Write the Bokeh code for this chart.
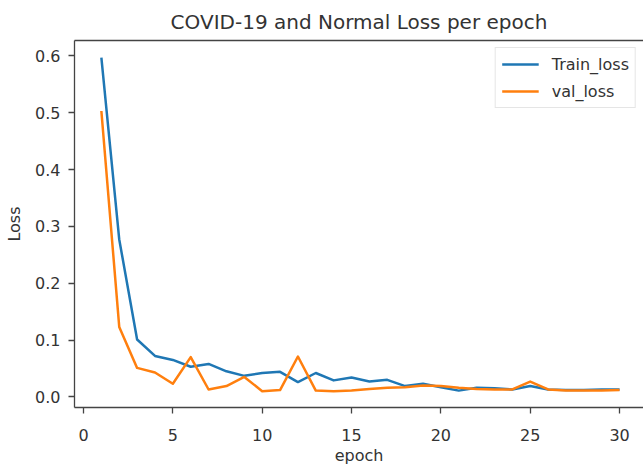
from bokeh.plotting import figure
from bokeh.models import Range1d, FixedTicker, PrintfTickFormatter, LinearAxis
from bokeh.embed import file_html
from bokeh.resources import INLINE

epochs = list(range(1, 31))
train_loss = [0.597, 0.277, 0.101, 0.072, 0.065, 0.053, 0.058, 0.045, 0.037, 0.042,
              0.044, 0.026, 0.042, 0.029, 0.034, 0.027, 0.030, 0.019, 0.023, 0.017,
              0.011, 0.016, 0.015, 0.013, 0.019, 0.013, 0.012, 0.012, 0.013, 0.013]
val_loss = [0.503, 0.123, 0.051, 0.043, 0.023, 0.070, 0.013, 0.019, 0.035, 0.010,
            0.012, 0.071, 0.011, 0.010, 0.011, 0.014, 0.016, 0.017, 0.020, 0.019,
            0.016, 0.014, 0.013, 0.013, 0.027, 0.013, 0.011, 0.011, 0.011, 0.012]
x_ticks = [0, 5, 10, 15, 20, 25, 30]
y_ticks = [0.0, 0.1, 0.2, 0.3, 0.4, 0.5, 0.6]

FONT = "DejaVu Sans"
TXT = "#333333"
SPINE = "#444444"

p = figure(width=643, height=467, output_backend="svg", toolbar_location=None,
           x_range=Range1d(-0.504, 31.34), y_range=Range1d(-0.0187, 0.627),
           min_border_left=74, min_border_right=0, min_border_top=39, min_border_bottom=58,
           title="COVID-19 and Normal Loss per epoch")

bottom_axis = p.below[0]
left_axis = p.left[0]

p.title.text_font = FONT
p.title.text_font_size = "20px"
p.title.text_font_style = "normal"
p.title.text_color = TXT
p.title.align = "center"
p.title.standoff = 14

p.outline_line_color = None
p.background_fill_color = "white"
p.border_fill_color = "white"
p.xgrid.visible = False
p.ygrid.visible = False

for ax in (bottom_axis, left_axis):
    ax.axis_line_color = SPINE
    ax.axis_line_width = 1.3
    ax.major_tick_line_color = SPINE
    ax.major_tick_line_width = 1.3
    ax.major_tick_out = 6
    ax.major_tick_in = 0
    ax.minor_tick_line_color = None
    ax.major_label_text_font = FONT
    ax.major_label_text_font_size = "16px"
    ax.major_label_text_color = TXT
    ax.axis_label_text_font = FONT
    ax.axis_label_text_font_size = "16px"
    ax.axis_label_text_font_style = "normal"
    ax.axis_label_text_color = TXT

bottom_axis.ticker = FixedTicker(ticks=x_ticks)
bottom_axis.axis_label = "epoch"
bottom_axis.major_label_standoff = 15
bottom_axis.axis_label_standoff = 2
left_axis.ticker = FixedTicker(ticks=y_ticks)
left_axis.formatter = PrintfTickFormatter(format="%.1f")
left_axis.axis_label = "Loss"
left_axis.major_label_standoff = 8
left_axis.axis_label_standoff = 8

top_axis = LinearAxis(ticker=FixedTicker(ticks=[]), major_tick_line_color=None,
                      minor_tick_line_color=None, major_label_text_font_size="0px",
                      major_tick_out=0, major_tick_in=0, major_label_standoff=0,
                      axis_line_color=SPINE, axis_line_width=1.3)
p.add_layout(top_axis, "above")

p.line(epochs, train_loss, line_color="#1f77b4", line_width=2.5, line_join="round",
       legend_label="Train_loss")
p.line(epochs, val_loss, line_color="#ff7f0e", line_width=2.5, line_join="round",
       legend_label="val_loss")

lg = p.legend[0]
lg.location = "top_right"
lg.margin = 7
lg.padding = 6
lg.spacing = 7
lg.glyph_width = 37
lg.glyph_height = 20
lg.label_height = 20
lg.label_standoff = 13
lg.label_text_font = FONT
lg.label_text_font_size = "16px"
lg.label_text_color = TXT
lg.border_line_color = "#cccccc"
lg.border_line_width = 1
lg.background_fill_color = "white"
lg.background_fill_alpha = 0.8

open("out.html", "w").write(file_html(p, INLINE))
